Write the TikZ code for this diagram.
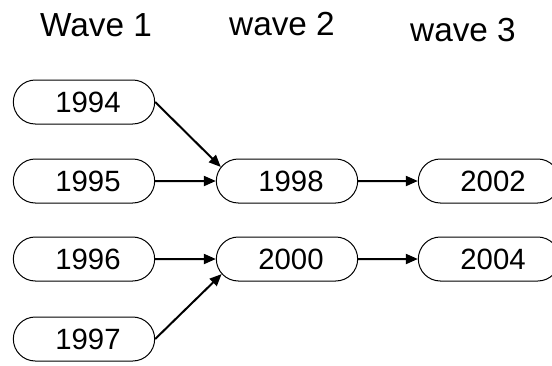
\documentclass[tikz,border=0pt]{standalone}
\usepackage{fontspec}
\setmainfont{Liberation Sans}
\usetikzlibrary{shapes.misc,arrows.meta}

\tikzset{
  year/.style={rounded rectangle, draw, line width=0.75pt,
    minimum width=106pt, minimum height=33pt, inner sep=0pt,
    font=\fontsize{22}{26}\selectfont,
    execute at begin node={\hspace*{6pt}}},
  wave/.style={font=\fontsize{25}{30}\selectfont},
  link/.style={-{Triangle[length=9pt,width=7.5pt]}, line width=1.5pt}
}

\begin{document}
\begin{tikzpicture}[x=0.75pt,y=-0.75pt]
  \useasboundingbox (0,0) rectangle (552,365);
  \clip (0,0) rectangle (552,365);

  \node[wave] (w-1) at (96,25) {Wave 1};
  \node[wave] (w-2) at (282,24) {wave 2};
  \node[wave] (w-3) at (463,30) {wave 3};

  \foreach \yr/\y in {1994/102, 1995/181, 1996/259, 1997/339} {
    \node[year] (y-\yr) at (84,\y) {\yr};
  }
  \foreach \yr/\y in {1998/181, 2000/259} {
    \node[year] (y-\yr) at (287,\y) {\yr};
  }
  \foreach \yr/\y in {2002/181, 2004/259} {
    \node[year] (y-\yr) at (489,\y) {\yr};
  }

  \draw[link] (y-1994.east) -- (y-1998.168);
  \draw[link] (y-1997.east) -- (y-2000.193);

  \foreach \from/\to in {1995/1998, 1996/2000, 1998/2002, 2000/2004} {
    \draw[link] (y-\from) -- (y-\to);
  }

\end{tikzpicture}
\end{document}
